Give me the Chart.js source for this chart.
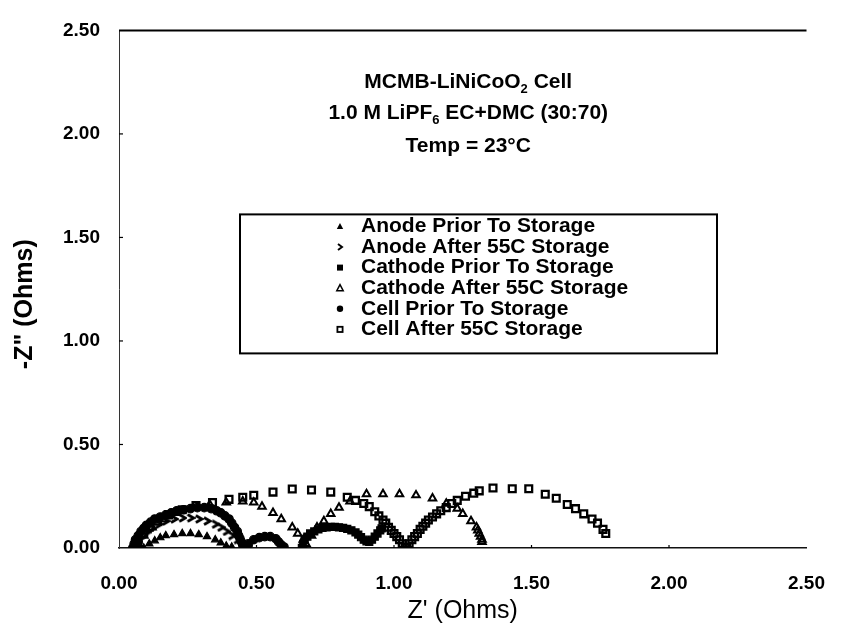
<!DOCTYPE html>
<html>
<head>
<meta charset="utf-8">
<title>MCMB-LiNiCoO2 Cell impedance</title>
<script src="https://cdn.jsdelivr.net/npm/chart.js@4.4.1/dist/chart.umd.min.js"></script>
<style>
  html, body { margin: 0; padding: 0; background: #fff; }
  #wrap { width: 849px; height: 628px; }
</style>
</head>
<body>
<div id="wrap"><canvas id="nyquist" width="849" height="628"></canvas></div>
<script>
// ── Nyquist data: [Z', -Z''] in Ohms ─────────────────────────
const anodePrior = [
  [0.09, 0.00], [0.11, 0.02], [0.13, 0.035], [0.15, 0.05], [0.17, 0.06],
  [0.20, 0.065], [0.23, 0.07], [0.26, 0.07], [0.29, 0.065], [0.32, 0.055],
  [0.35, 0.04], [0.37, 0.025], [0.39, 0.01], [0.41, 0.005]
];

const anodeAfter = [
  [0.06, 0.00], [0.07, 0.03], [0.08, 0.05], [0.10, 0.075], [0.12, 0.095],
  [0.145, 0.115], [0.17, 0.13], [0.20, 0.14], [0.23, 0.145], [0.26, 0.145],
  [0.29, 0.14], [0.32, 0.13], [0.35, 0.115], [0.37, 0.10], [0.39, 0.08],
  [0.41, 0.06], [0.43, 0.04], [0.45, 0.02], [0.47, 0.01]
];

const cathodePrior = [
  [0.665, 0.00], [0.67, 0.02], [0.675, 0.04], [0.685, 0.055], [0.695, 0.07],
  [0.71, 0.08], [0.725, 0.09], [0.74, 0.097], [0.755, 0.10], [0.77, 0.102],
  [0.785, 0.102], [0.80, 0.10], [0.815, 0.097], [0.83, 0.092], [0.845, 0.085],
  [0.86, 0.075], [0.87, 0.065], [0.88, 0.052], [0.89, 0.04], [0.90, 0.032],
  [0.91, 0.03], [0.92, 0.04], [0.93, 0.055], [0.94, 0.07], [0.95, 0.085],
  [0.955, 0.095]
];

const cathodeAfter = [
  [0.07, 0.02], [0.09, 0.06], [0.12, 0.10], [0.16, 0.14], [0.21, 0.17],
  [0.27, 0.195], [0.33, 0.21], [0.39, 0.22], [0.45, 0.225], [0.49, 0.22],
  [0.52, 0.20], [0.56, 0.17], [0.59, 0.14], [0.63, 0.10], [0.65, 0.07],
  [0.67, 0.04], [0.68, 0.02], [0.70, 0.06], [0.72, 0.10], [0.745, 0.13],
  [0.77, 0.165], [0.80, 0.195], [0.84, 0.225], [0.90, 0.26], [0.96, 0.26],
  [1.02, 0.26], [1.08, 0.255], [1.14, 0.24], [1.19, 0.215], [1.23, 0.19],
  [1.25, 0.165], [1.28, 0.13], [1.30, 0.10], [1.305, 0.085], [1.31, 0.07],
  [1.315, 0.055], [1.32, 0.04], [1.32, 0.03]
];

const cellPrior = [
  [0.05, 0.00], [0.055, 0.02], [0.06, 0.04], [0.07, 0.06], [0.08, 0.08],
  [0.09, 0.095], [0.10, 0.11], [0.115, 0.125], [0.13, 0.14], [0.15, 0.15],
  [0.17, 0.16], [0.19, 0.17], [0.21, 0.18], [0.235, 0.185], [0.26, 0.19],
  [0.285, 0.195], [0.31, 0.195], [0.335, 0.19], [0.355, 0.18], [0.37, 0.17],
  [0.385, 0.155], [0.40, 0.14], [0.41, 0.12], [0.42, 0.10], [0.43, 0.08],
  [0.435, 0.06], [0.44, 0.045], [0.445, 0.03], [0.45, 0.015], [0.455, 0.005],
  [0.47, 0.02], [0.49, 0.04], [0.51, 0.05], [0.53, 0.055], [0.55, 0.055],
  [0.57, 0.045], [0.58, 0.03], [0.59, 0.015], [0.60, 0.005]
];

const cellAfter = [
  [0.06, 0.01], [0.07, 0.04], [0.09, 0.07], [0.11, 0.10], [0.14, 0.13],
  [0.18, 0.16], [0.23, 0.185], [0.28, 0.205], [0.34, 0.22], [0.40, 0.235],
  [0.45, 0.245], [0.49, 0.255], [0.56, 0.27], [0.63, 0.285], [0.70, 0.28],
  [0.77, 0.27], [0.83, 0.245], [0.86, 0.23], [0.89, 0.215], [0.91, 0.20],
  [0.93, 0.175], [0.945, 0.155], [0.96, 0.135], [0.97, 0.12], [0.98, 0.10],
  [0.99, 0.085], [1.00, 0.07], [1.01, 0.055], [1.02, 0.04], [1.03, 0.02],
  [1.04, 0.005], [1.046, 0.00], [1.055, 0.02], [1.065, 0.04], [1.075, 0.055],
  [1.085, 0.07], [1.095, 0.09], [1.105, 0.105], [1.115, 0.12], [1.125, 0.135],
  [1.14, 0.15], [1.155, 0.165], [1.17, 0.18], [1.19, 0.195], [1.21, 0.215],
  [1.23, 0.23], [1.26, 0.25], [1.29, 0.265], [1.31, 0.276], [1.36, 0.29],
  [1.43, 0.286], [1.49, 0.286], [1.55, 0.26], [1.59, 0.24], [1.63, 0.21],
  [1.66, 0.19], [1.69, 0.165], [1.72, 0.14], [1.74, 0.12], [1.76, 0.09],
  [1.77, 0.07]
];

const seriesLabels = [
  "Anode Prior To Storage",
  "Anode After 55C Storage",
  "Cathode Prior To Storage",
  "Cathode After 55C Storage",
  "Cell Prior To Storage",
  "Cell After 55C Storage"
];

const tickValues = [0, 0.5, 1.0, 1.5, 2.0, 2.5];

// title block: each line is a list of [text, script] runs
const titleLines = [
  [["MCMB-LiNiCoO", ""], ["2", "sub"], [" Cell", ""]],
  [["1.0 M LiPF", ""], ["6", "sub"], [" EC+DMC (30:70)", ""]],
  [["Temp = 23°C", ""]]
];
const titleLineValues = [2.248, 2.10, 1.943];   // -Z'' level of each title line
const titleCenterX = 1.27;                        // Z' at the centre of the title block

const FONT = "'Liberation Sans', Arial, Helvetica, sans-serif";

// ── Marker styles ───────────────────────────────────────────
// small ">" chevron used by the anode-after-storage series
const chevron = document.createElement("canvas");
chevron.width = 10;
chevron.height = 10;
(() => {
  const c = chevron.getContext("2d");
  c.strokeStyle = "#000";
  c.lineWidth = 2.8;
  c.beginPath();
  c.moveTo(2, 1.5);
  c.lineTo(8, 5);
  c.lineTo(2, 8.5);
  c.stroke();
})();

const markerStyles = [
  { pointStyle: "triangle", pointRadius: 4.2, backgroundColor: "#000", borderWidth: 1.2 },
  { pointStyle: chevron, pointRadius: 4.5, backgroundColor: "#000", borderWidth: 1 },
  { pointStyle: "rect", pointRadius: 5, backgroundColor: "#000", borderWidth: 1.2 },
  { pointStyle: "triangle", pointRadius: 4.3, backgroundColor: "rgba(0,0,0,0)", borderWidth: 2 },
  { pointStyle: "circle", pointRadius: 4.2, backgroundColor: "#000", borderWidth: 1.2 },
  { pointStyle: "rect", pointRadius: 4.8, backgroundColor: "rgba(0,0,0,0)", borderWidth: 2.3 }
];

const seriesData = [anodePrior, anodeAfter, cathodePrior, cathodeAfter, cellPrior, cellAfter];

const datasets = seriesData.map((pts, i) => ({
  label: seriesLabels[i],
  data: pts.map(([x, y]) => ({ x, y })),
  showLine: false,
  borderColor: "#000",
  pointStyle: markerStyles[i].pointStyle,
  pointRadius: markerStyles[i].pointRadius,
  pointBackgroundColor: markerStyles[i].backgroundColor,
  pointBorderColor: "#000",
  pointBorderWidth: markerStyles[i].borderWidth
}));

// legend marker, drawn a bit smaller than the plotted points
function drawLegendMarker(ctx, i, x, y) {
  const st = markerStyles[i].pointStyle;
  ctx.save();
  ctx.fillStyle = "#000";
  ctx.strokeStyle = "#000";
  if (st === chevron) {
    ctx.lineWidth = 2;
    ctx.beginPath();
    ctx.moveTo(x - 2, y - 3);
    ctx.lineTo(x + 2, y);
    ctx.lineTo(x - 2, y + 3);
    ctx.stroke();
  } else if (st === "triangle") {
    ctx.beginPath();
    ctx.moveTo(x, y - 3.5);
    ctx.lineTo(x + 3.2, y + 2.5);
    ctx.lineTo(x - 3.2, y + 2.5);
    ctx.closePath();
    if (i === 0) ctx.fill();
    else { ctx.lineWidth = 1.5; ctx.stroke(); }
  } else if (st === "rect") {
    if (i === 2) ctx.fillRect(x - 3, y - 3, 6, 6);
    else { ctx.lineWidth = 1.8; ctx.strokeRect(x - 2.6, y - 2.6, 5.2, 5.2); }
  } else {
    ctx.beginPath();
    ctx.arc(x, y, 3.2, 0, Math.PI * 2);
    ctx.fill();
  }
  ctx.restore();
}

// text made of runs with subscripts, centred on x
function drawRuns(ctx, runs, cx, cy, size) {
  const fontFor = (kind) => `bold ${kind ? Math.round(size * 0.62) : size}px ${FONT}`;
  let total = 0;
  runs.forEach(([t, kind]) => { ctx.font = fontFor(kind); total += ctx.measureText(t).width; });
  let x = cx - total / 2;
  runs.forEach(([t, kind]) => {
    ctx.font = fontFor(kind);
    const dy = kind === "sub" ? size * 0.32 : 0;
    ctx.fillText(t, x, cy + dy);
    x += ctx.measureText(t).width;
  });
}

// ── Frame, ticks, title block, legend and axis titles ──────
const decorPlugin = {
  id: "decor",
  afterDraw(chart) {
    const { ctx, chartArea: a, scales: { x: xs, y: ys } } = chart;
    ctx.save();

    // top frame line
    ctx.strokeStyle = "#000";
    ctx.lineWidth = 2;
    ctx.beginPath();
    ctx.moveTo(a.left, a.top);
    ctx.lineTo(a.right, a.top);
    ctx.stroke();

    // small inward tick marks
    ctx.lineWidth = 1.2;
    tickValues.slice(1, -1).forEach((v) => {
      const py = ys.getPixelForValue(v);
      ctx.beginPath();
      ctx.moveTo(a.left, py);
      ctx.lineTo(a.left + 4, py);
      ctx.stroke();
      const px = xs.getPixelForValue(v);
      ctx.beginPath();
      ctx.moveTo(px, a.bottom);
      ctx.lineTo(px, a.bottom - 3);
      ctx.stroke();
    });

    // title block
    ctx.fillStyle = "#000";
    ctx.textAlign = "left";
    ctx.textBaseline = "middle";
    const tcx = xs.getPixelForValue(titleCenterX);
    titleLines.forEach((runs, i) => {
      drawRuns(ctx, runs, tcx, ys.getPixelForValue(titleLineValues[i]), 21);
    });

    // legend box
    const lx = a.left + 121, ly = a.top + 184, lw = 477, lh = 139;
    ctx.lineWidth = 2;
    ctx.strokeRect(lx, ly, lw, lh);
    ctx.font = `bold 21px ${FONT}`;
    seriesLabels.forEach((label, i) => {
      const rowY = ly + 12 + i * 20.6;
      drawLegendMarker(ctx, i, lx + 100, rowY);
      ctx.fillText(label, lx + 121, rowY);
    });

    // axis titles
    ctx.textAlign = "center";
    ctx.font = `25px ${FONT}`;
    ctx.fillText("Z' (Ohms)", (a.left + a.right) / 2, a.bottom + 63);
    ctx.save();
    ctx.translate(25, (a.top + a.bottom) / 2 + 15);
    ctx.rotate(-Math.PI / 2);
    ctx.font = `bold 25px ${FONT}`;
    ctx.fillText('-Z" (Ohms)', 0, 0);
    ctx.restore();

    ctx.restore();
  }
};

const tickFont = { family: FONT, size: 19, weight: "bold" };

new Chart(document.getElementById("nyquist"), {
  type: "scatter",
  data: { datasets },
  options: {
    responsive: false,
    animation: false,
    layout: { padding: { top: 23, right: 23, left: 0, bottom: 0 } },
    plugins: { legend: { display: false }, tooltip: { enabled: false } },
    scales: {
      x: {
        type: "linear",
        min: 0,
        max: 2.5,
        afterBuildTicks: (s) => { s.ticks = tickValues.map((v) => ({ value: v })); },
        afterFit: (s) => { s.height = 80; },
        ticks: { font: tickFont, color: "#000", padding: 24, callback: (v) => v.toFixed(2), maxRotation: 0 },
        grid: { display: true, drawOnChartArea: false, drawTicks: false },
        border: { display: true, color: "#111", width: 1.6 }
      },
      y: {
        type: "linear",
        min: 0,
        max: 2.5,
        afterBuildTicks: (s) => { s.ticks = tickValues.map((v) => ({ value: v })); },
        afterFit: (s) => { s.width = 119; },
        ticks: { font: tickFont, color: "#000", padding: 19, callback: (v) => v.toFixed(2) },
        grid: { display: true, drawOnChartArea: false, drawTicks: false },
        border: { display: true, color: "#333", width: 1, dash: [4, 5] }
      }
    }
  },
  plugins: [decorPlugin]
});
</script>
</body>
</html>
